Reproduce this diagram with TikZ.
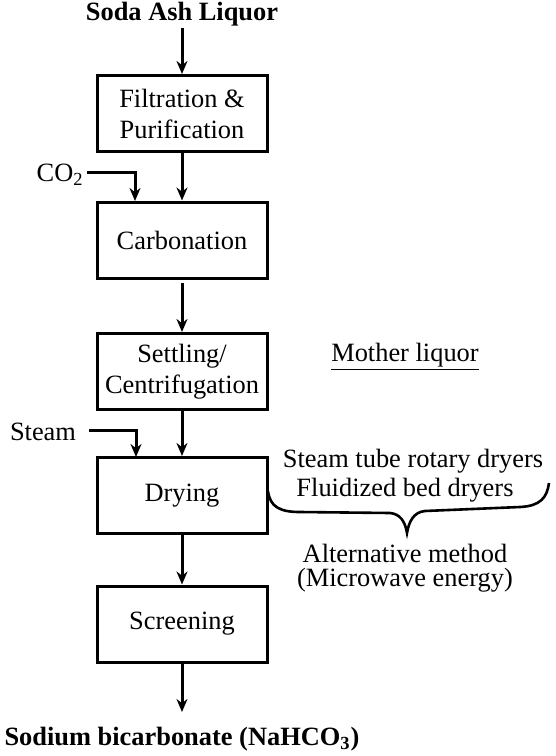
\documentclass[tikz,border=0pt]{standalone}
\usepackage{fontspec}
\setmainfont{Liberation Serif}
\usetikzlibrary{arrows.meta}
\begin{document}
\begin{tikzpicture}[x=0.5pt,y=-0.5pt,
  font=\fontsize{13.2}{15.5}\selectfont,
  proc/.style={draw, line width=1.5pt, minimum width=85pt, minimum height=38pt, align=center, inner sep=1pt},
  flow/.style={line width=1.5pt, -{Stealth[length=6.5pt,width=5.5pt]}},
  lbl/.style={inner sep=1pt, align=center}]
\useasboundingbox (0,0) rectangle (556,756);
\node[lbl, font=\fontsize{13.2}{15.5}\selectfont\bfseries] (top) at (182,14) {Soda Ash Liquor};
\node[proc] (filt) at (182,113.5) {Filtration \&\\Purification};
\node[proc] (carb) at (182,240) {Carbonation};
\node[proc] (sett) at (182,371.5) {Settling/\\Centrifugation};
\node[proc] (dry) at (182,495.5) {Drying};
\node[proc] (scr) at (182,624) {Screening};
\node[lbl, font=\fontsize{13.2}{15.5}\selectfont\bfseries] (prod) at (182,739) {Sodium bicarbonate (NaHCO\textsubscript{3})};
\coordinate (topend) at (182,28);
\coordinate (prodend) at (182,712);
\draw[flow] (topend) -- (filt.north);
\draw[flow] (filt.south) -- (carb.north);
\draw[flow] (carb.south |- 0,283) -- (sett.north);
\draw[flow] (sett.south) -- (dry.north);
\draw[flow] (dry.south) -- (scr.north);
\draw[flow] (scr.south) -- (prodend);
\node[lbl, anchor=east] (co2) at (86,175) {CO\textsubscript{2}};
\coordinate (co2s) at (87,172);
\draw[flow] (co2s) -| (135,201);
\node[lbl] (steam) at (43,432) {Steam};
\coordinate (steams) at (89,430);
\draw[flow] (steams) -| (136,457);
\node[lbl] (mother) at (405,357) {\underline{Mother liquor}};
\node[lbl] (st) at (413,461) {Steam tube rotary dryers};
\node[lbl] (fb) at (405,490) {Fluidized bed dryers};
\node[lbl] (alt) at (405,553) {Alternative method};
\node[lbl] (mw) at (405,580) {(Microwave energy)};
\draw[line width=1.3pt] (268,491) .. controls (270,507) and (280,512) .. (300,512) -- (390,513) .. controls (400,514) and (405,521) .. (407,533) .. controls (409,521) and (414,512) .. (425,511) -- (520,507) .. controls (540,506) and (547,498) .. (549,483);
\end{tikzpicture}
\end{document}
